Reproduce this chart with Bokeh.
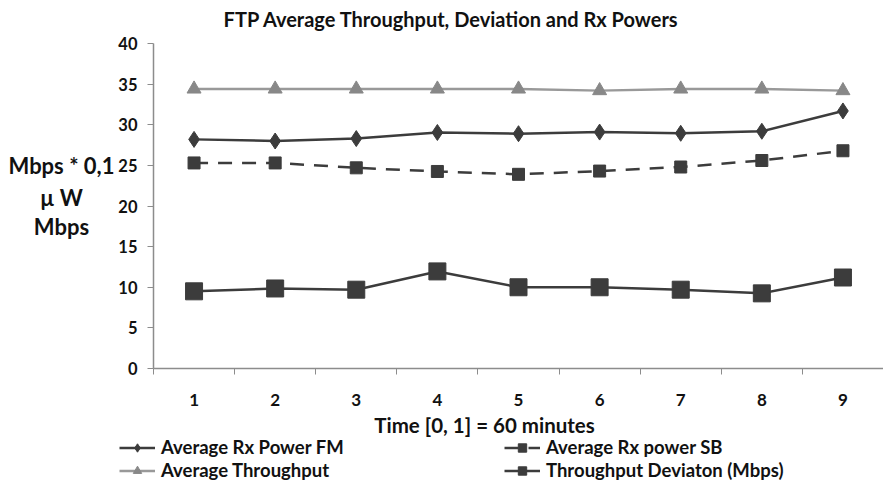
from bokeh.plotting import figure
from bokeh.models import (Range1d, FixedTicker, Legend, LegendItem, LinearAxis, Label)
from bokeh.embed import file_html
from bokeh.resources import INLINE

# ---- data ----
time_idx = [1, 2, 3, 4, 5, 6, 7, 8, 9]
tick_labels = ["1", "2", "3", "4", "5", "6", "7", "8", "9"]
rx_power_fm = [28.2, 28.0, 28.3, 29.05, 28.9, 29.1, 28.95, 29.2, 31.7]
rx_power_sb = [25.3, 25.3, 24.7, 24.25, 23.9, 24.3, 24.8, 25.6, 26.8]
avg_throughput = [34.4, 34.4, 34.4, 34.4, 34.4, 34.2, 34.4, 34.4, 34.2]
throughput_dev = [9.5, 9.85, 9.7, 11.95, 10.0, 10.0, 9.7, 9.25, 11.2]
y_ticks = [0, 5, 10, 15, 20, 25, 30, 35, 40]
x_bounds = (0.5, 9.5)
y_bounds = (0, 40)

FONT = "Lato"
DARK = "#3c3c3c"
GRAY = "#999999"
AXIS = "#8c8c8c"
TXT = "#111111"

W, H = 883, 484
# plot-area pixel box (left, right, top, bottom) inside the figure
PL, PR, PT, PB = 153, 883, 43, 368
xs = (PR - PL) / (x_bounds[1] - x_bounds[0])
ys = (PB - PT) / (y_bounds[1] - y_bounds[0])
x_range = Range1d(x_bounds[0] - PL / xs, x_bounds[1] + (W - PR) / xs)
y_range = Range1d(y_bounds[0] - (H - PB) / ys, y_bounds[1] + PT / ys)

p = figure(width=W, height=H, output_backend="svg", toolbar_location=None,
           x_range=x_range, y_range=y_range,
           min_border_left=0, min_border_right=0, min_border_top=0,
           min_border_bottom=0, x_axis_type=None, y_axis_type=None)
p.outline_line_color = None
p.background_fill_color = "white"
p.border_fill_color = "white"
p.xgrid.visible = False
p.ygrid.visible = False

# axes (fixed at the data origin)
xaxis = LinearAxis(ticker=FixedTicker(ticks=time_idx,
                                      minor_ticks=[i + 0.5 for i in range(0, 10)]),
                   fixed_location=y_bounds[0], bounds=x_bounds)
xaxis.major_label_overrides = {i: s for i, s in zip(time_idx, tick_labels)}
xaxis.major_tick_out = 0
xaxis.major_tick_in = 0
xaxis.minor_tick_out = 6
xaxis.minor_tick_in = 0
xaxis.minor_tick_line_color = AXIS
xaxis.axis_line_color = AXIS
xaxis.axis_line_width = 1.5
xaxis.major_label_standoff = 19
xaxis.major_label_text_font = FONT
xaxis.major_label_text_font_style = "bold"
xaxis.major_label_text_font_size = "17px"
xaxis.major_label_text_color = TXT
p.add_layout(xaxis, "below")

yaxis = LinearAxis(ticker=FixedTicker(ticks=y_ticks), fixed_location=x_bounds[0],
                   bounds=y_bounds)
yaxis.major_tick_out = 6
yaxis.major_tick_in = 0
yaxis.minor_tick_out = 0
yaxis.minor_tick_in = 0
yaxis.major_tick_line_color = AXIS
yaxis.axis_line_color = AXIS
yaxis.axis_line_width = 1.5
yaxis.major_label_standoff = 10
yaxis.major_label_text_font = FONT
yaxis.major_label_text_font_style = "bold"
yaxis.major_label_text_font_size = "16.5px"
yaxis.major_label_text_color = TXT
p.add_layout(yaxis, "left")

# series
l_thr = p.line(time_idx, avg_throughput, line_color=GRAY, line_width=2.5)
m_thr = p.scatter(time_idx, avg_throughput, marker="triangle", size=14,
                  fill_color="#888888", line_color="#888888")

l_fm = p.line(time_idx, rx_power_fm, line_color=DARK, line_width=2.5)
m_fm = p.scatter(time_idx, rx_power_fm, marker="diamond", size=16,
                 fill_color=DARK, line_color=DARK)

l_sb = p.line(time_idx, rx_power_sb, line_color=DARK, line_width=2.5, line_dash="14 10")
m_sb = p.scatter(time_idx, rx_power_sb, marker="square", size=12,
                 fill_color=DARK, line_color=DARK)

l_dev = p.line(time_idx, throughput_dev, line_color=DARK, line_width=2.5)
m_dev = p.scatter(time_idx, throughput_dev, marker="square", size=17,
                  fill_color=DARK, line_color=DARK)

# legends (screen offsets from the figure's bottom-left)
def make_legend(items, loc):
    lg = Legend(items=items, location=loc, orientation="vertical",
                border_line_color=None, background_fill_alpha=0,
                label_text_font=FONT, label_text_font_style="bold",
                label_text_font_size="18.5px", label_text_color=TXT,
                label_height=21, glyph_width=36, glyph_height=21, label_standoff=6,
                spacing=1, padding=0, margin=0)
    p.add_layout(lg, "center")

make_legend([LegendItem(label="Average Rx Power FM", renderers=[l_fm, m_fm]),
             LegendItem(label="Average Throughput", renderers=[l_thr, m_thr])],
            (119, 3))
make_legend([LegendItem(label="Average Rx power SB", renderers=[l_sb, m_sb]),
             LegendItem(label="Throughput Deviaton (Mbps)", renderers=[l_dev, m_dev])],
            (504, 3))

def txt(text, x, y, size):
    p.add_layout(Label(x=x, y=H - y, x_units="screen", y_units="screen", text=text,
                       text_align="center", text_baseline="middle",
                       text_font=FONT, text_font_style="bold",
                       text_font_size=size, text_color=TXT))

txt("FTP Average Throughput, Deviation and Rx Powers", 451, 18, "20px")
txt("Mbps * 0,1", 61, 165, "22px")
txt("\u00b5 W", 61, 197, "22px")
txt("Mbps", 61, 226, "22px")
txt("Time [0, 1] = 60 minutes", 484, 424, "20.5px")

open("out.html", "w").write(file_html(p, INLINE))
